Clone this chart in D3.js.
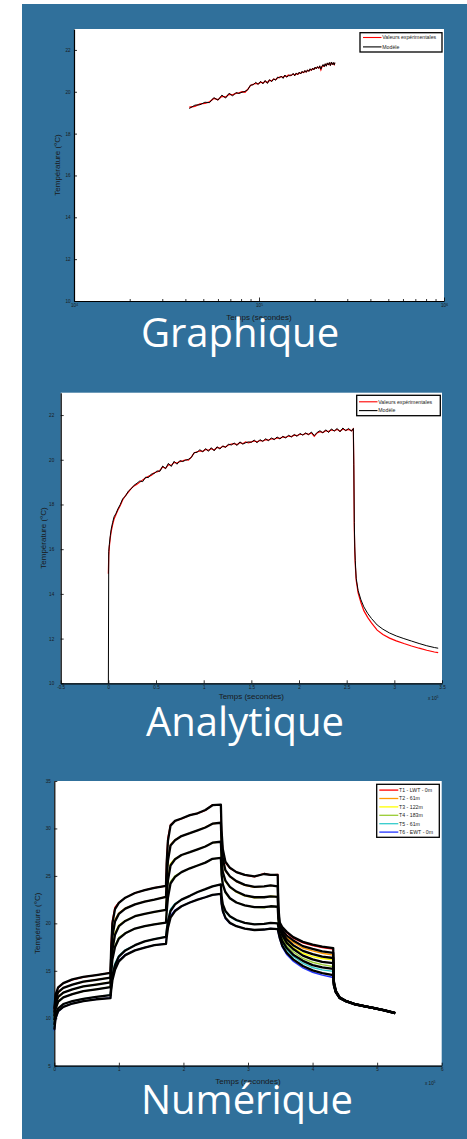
<!DOCTYPE html>
<html>
<head>
<meta charset="utf-8">
<script src="https://cdn.jsdelivr.net/npm/d3@7"></script>
<style>
  html, body { margin: 0; padding: 0; background: #ffffff; }
  svg { display: block; }
</style>
</head>
<body>
<svg id="fig" width="467" height="1139"></svg>
<script>
// ---------- Analytical model: heating test then recovery (time in units of 1e5 s) ----------
const tAna = [0, 0.004, 0.01, 0.02, 0.03, 0.045, 0.06, 0.08, 0.1, 0.125, 0.15, 0.18, 0.21, 0.24, 0.27, 0.3,
  0.33, 0.36, 0.39, 0.42, 0.45, 0.48, 0.51, 0.54, 0.57, 0.6, 0.63, 0.66, 0.69, 0.72, 0.75, 0.78, 0.81, 0.84,
  0.87, 0.9, 0.93, 0.96, 0.99, 1.02, 1.05, 1.08, 1.11, 1.14, 1.17, 1.2, 1.23, 1.26, 1.29, 1.32, 1.35, 1.38,
  1.41, 1.44, 1.47, 1.5, 1.53, 1.56, 1.59, 1.62, 1.65, 1.68, 1.71, 1.74, 1.77, 1.8, 1.83, 1.86, 1.89, 1.92,
  1.95, 1.98, 2.01, 2.04, 2.07, 2.1, 2.13, 2.16, 2.19, 2.22, 2.25, 2.28, 2.31, 2.34, 2.37, 2.4, 2.43, 2.46,
  2.49, 2.52, 2.55, 2.57,
  2.575, 2.58, 2.585, 2.59, 2.6, 2.62, 2.65, 2.68, 2.72, 2.76, 2.82, 2.88, 2.95, 3.02, 3.1, 3.18, 3.26,
  3.34, 3.42, 3.46];
const expAna = [14.9, 15.7, 16.1, 16.5, 16.8, 17.1, 17.35, 17.55, 17.75, 17.95, 18.2, 18.4, 18.55, 18.72, 18.83, 18.9,
  19.0, 19.1, 19.18, 19.26, 19.3, 19.42, 19.45, 19.52, 19.68, 19.62, 19.78, 19.75, 19.88, 19.85, 19.92, 19.95, 20.0, 19.98,
  20.12, 20.3, 20.36, 20.4, 20.38, 20.46, 20.42, 20.5, 20.44, 20.55, 20.52, 20.6, 20.58, 20.66, 20.7, 20.72, 20.68, 20.76,
  20.72, 20.8, 20.76, 20.8, 20.84, 20.8, 20.86, 20.84, 20.9, 20.88, 20.94, 20.92, 20.98, 20.96, 21.02, 21.0, 21.06, 21.04,
  21.1, 21.08, 21.14, 21.12, 21.18, 21.14, 21.2, 21.05, 21.2, 21.26, 21.22, 21.3, 21.26, 21.34, 21.3, 21.36, 21.28, 21.38,
  21.32, 21.36, 21.3, 21.38,
  19.5, 16.9, 15.9, 15.3, 14.6, 14.05, 13.6, 13.25, 12.95, 12.7, 12.38, 12.18, 12.02, 11.9, 11.78, 11.67, 11.57,
  11.48, 11.4, 11.37];
const modAna = [10.0, 15.9, 16.2, 16.6, 16.9, 17.2, 17.45, 17.6, 17.8, 18.0, 18.25, 18.38, 18.6, 18.7, 18.86, 18.95,
  19.05, 19.02, 19.22, 19.2, 19.36, 19.38, 19.5, 19.48, 19.72, 19.6, 19.84, 19.7, 19.93, 19.8, 19.96, 19.92, 19.98, 20.02,
  20.1, 20.32, 20.33, 20.45, 20.35, 20.5, 20.38, 20.54, 20.4, 20.58, 20.48, 20.62, 20.55, 20.7, 20.66, 20.75, 20.64, 20.8,
  20.7, 20.76, 20.8, 20.78, 20.88, 20.76, 20.9, 20.82, 20.94, 20.85, 20.98, 20.9, 21.02, 20.93, 21.05, 20.97, 21.1, 21.02,
  21.13, 21.05, 21.18, 21.1, 21.2, 21.12, 21.24, 21.08, 21.22, 21.3, 21.2, 21.34, 21.22, 21.38, 21.28, 21.4, 21.25, 21.42,
  21.3, 21.4, 21.28, 21.4,
  19.8, 17.2, 16.1, 15.5, 14.7, 14.15, 13.73, 13.42, 13.13, 12.9, 12.61, 12.42, 12.25, 12.12, 12.0, 11.89, 11.78,
  11.68, 11.6, 11.57];

// Window of the heating test shown against log time (seconds)
const logWindow = [0.41e5, 2.57e5];

// ---------- Numerical model: six sensors over five load steps (time in units of 1e5 s) ----------
const tNum = [0, 0.02, 0.06, 0.14, 0.28, 0.45, 0.65, 0.87,
  0.88, 0.9, 0.94, 1.0, 1.1, 1.25, 1.4, 1.55, 1.73,
  1.74, 1.76, 1.8, 1.87, 1.97, 2.1, 2.22, 2.34, 2.45, 2.58,
  2.59, 2.61, 2.65, 2.72, 2.82, 2.95, 3.1, 3.25, 3.35, 3.46,
  3.47, 3.49, 3.53, 3.6, 3.7, 3.85, 4.0, 4.15, 4.32,
  4.33, 4.36, 4.42, 4.52, 4.65, 4.8, 4.95, 5.1, 5.28];

const sensorNames = ["T1 - LWT - 0m", "T2 - 61m", "T3 - 122m", "T4 - 183m", "T5 - 61m", "T6 - EWT - 0m"];
const sensorColors = ["#ff0000", "#ff9900", "#ffff00", "#99cc33", "#33cccc", "#2233ff"];

const measT1 = [10.8, 12.4, 13.2, 13.7, 14.05, 14.35, 14.55, 14.8,
  17.8, 20.3, 21.7, 22.2, 22.7, 23.2, 23.5, 23.75, 23.95,
  26.8, 29.0, 30.4, 30.8, 31.0, 31.4, 31.6, 31.9, 32.5, 32.5,
  29.5, 27.6, 26.4, 25.8, 25.4, 25.1, 24.9, 25.25, 25.1, 25.15,
  21.5, 19.9, 19.5, 19.0, 18.45, 17.95, 17.65, 17.45, 17.3,
  13.8, 12.85, 12.15, 11.8, 11.5, 11.27, 11.07, 10.85, 10.55];
const measT2 = [10.5, 11.9, 12.7, 13.2, 13.55, 13.85, 14.05, 14.3,
  16.6, 18.9, 20.4, 21.1, 21.6, 22.0, 22.3, 22.5, 22.8,
  24.9, 26.9, 28.3, 28.8, 29.2, 29.5, 29.8, 30.15, 30.5, 30.6,
  28.0, 26.6, 25.5, 24.9, 24.4, 24.0, 23.8, 23.9, 24.0, 23.9,
  21.0, 19.6, 19.1, 18.5, 18.0, 17.4, 17.1, 16.85, 16.65,
  13.7, 12.8, 12.15, 11.8, 11.5, 11.27, 11.07, 10.85, 10.55];
const measT3 = [10.1, 11.4, 12.2, 12.7, 13.05, 13.35, 13.55, 13.8,
  15.6, 17.5, 19.0, 19.8, 20.3, 20.75, 21.0, 21.2, 21.45,
  23.0, 24.8, 26.3, 26.8, 27.2, 27.5, 27.8, 28.1, 28.5, 28.6,
  26.5, 25.3, 24.4, 23.8, 23.3, 22.9, 22.7, 22.75, 22.85, 22.8,
  20.6, 19.4, 18.8, 18.05, 17.45, 16.85, 16.5, 16.3, 16.15,
  13.6, 12.8, 12.15, 11.8, 11.5, 11.27, 11.07, 10.85, 10.55];
const measT4 = [9.7, 10.9, 11.7, 12.2, 12.55, 12.85, 13.05, 13.3,
  14.9, 16.4, 17.7, 18.5, 19.0, 19.45, 19.7, 19.9, 20.1,
  21.4, 22.9, 24.4, 25.0, 25.4, 25.8, 26.1, 26.4, 26.8, 26.9,
  25.0, 24.0, 23.2, 22.6, 22.2, 21.9, 21.7, 21.65, 21.8, 21.75,
  20.2, 19.2, 18.5, 17.65, 17.0, 16.3, 15.9, 15.65, 15.45,
  13.5, 12.75, 12.15, 11.8, 11.5, 11.27, 11.07, 10.85, 10.55];
const measT5 = [9.2, 10.3, 11.0, 11.5, 11.8, 12.05, 12.25, 12.45,
  13.6, 14.7, 15.8, 16.6, 17.2, 17.7, 18.1, 18.35, 18.6,
  19.4, 20.4, 21.5, 22.1, 22.5, 22.9, 23.3, 23.6, 23.9, 24.1,
  22.8, 21.9, 21.2, 20.7, 20.3, 20.05, 19.9, 19.95, 20.05, 20.0,
  19.5, 18.8, 18.0, 17.2, 16.5, 15.8, 15.35, 15.1, 14.95,
  13.45, 12.75, 12.15, 11.8, 11.5, 11.27, 11.07, 10.85, 10.55];
const measT6 = [8.7, 9.9, 10.7, 11.2, 11.55, 11.8, 12.0, 12.15,
  13.1, 14.2, 15.3, 16.1, 16.7, 17.15, 17.45, 17.7, 17.85,
  18.7, 19.7, 20.8, 21.4, 21.8, 22.2, 22.5, 22.75, 23.0, 23.1,
  22.0, 21.2, 20.5, 20.0, 19.7, 19.45, 19.3, 19.35, 19.45, 19.4,
  19.0, 18.4, 17.5, 16.7, 16.0, 15.3, 14.85, 14.55, 14.3,
  13.4, 12.7, 12.1, 11.75, 11.45, 11.25, 11.05, 10.83, 10.52];

const simT1 = [11.0, 12.5, 13.25, 13.7, 14.1, 14.35, 14.55, 14.78,
  17.2, 20.0, 21.5, 22.15, 22.7, 23.2, 23.5, 23.75, 23.95,
  26.3, 28.7, 30.3, 30.8, 31.05, 31.4, 31.6, 31.95, 32.45, 32.5,
  29.8, 27.8, 26.5, 25.85, 25.4, 25.1, 24.95, 25.2, 25.1, 25.1,
  21.8, 20.1, 19.6, 19.1, 18.55, 18.05, 17.75, 17.55, 17.4,
  13.9, 12.9, 12.2, 11.82, 11.52, 11.28, 11.08, 10.86, 10.56];
const simT2 = [10.6, 12.0, 12.75, 13.2, 13.55, 13.85, 14.05, 14.28,
  16.3, 18.6, 20.2, 21.0, 21.55, 22.0, 22.3, 22.5, 22.78,
  24.6, 26.6, 28.2, 28.75, 29.2, 29.5, 29.8, 30.1, 30.5, 30.6,
  28.2, 26.8, 25.6, 24.95, 24.45, 24.05, 23.85, 23.9, 24.0, 23.9,
  21.3, 19.8, 19.3, 18.7, 18.2, 17.6, 17.3, 17.05, 16.9,
  13.8, 12.85, 12.18, 11.8, 11.5, 11.27, 11.07, 10.85, 10.55];
const simT3 = [10.2, 11.5, 12.25, 12.7, 13.05, 13.35, 13.55, 13.78,
  15.4, 17.2, 18.8, 19.7, 20.25, 20.75, 21.0, 21.2, 21.42,
  22.8, 24.5, 26.1, 26.75, 27.2, 27.5, 27.8, 28.1, 28.5, 28.6,
  26.7, 25.4, 24.5, 23.85, 23.35, 22.95, 22.75, 22.75, 22.85, 22.8,
  20.9, 19.6, 19.0, 18.3, 17.7, 17.1, 16.75, 16.5, 16.35,
  13.7, 12.82, 12.16, 11.8, 11.5, 11.27, 11.07, 10.85, 10.55];
const simT4 = [9.8, 11.0, 11.75, 12.2, 12.55, 12.85, 13.05, 13.28,
  14.7, 16.2, 17.5, 18.4, 18.95, 19.45, 19.7, 19.9, 20.08,
  21.2, 22.7, 24.2, 24.9, 25.4, 25.8, 26.1, 26.4, 26.8, 26.9,
  25.2, 24.1, 23.3, 22.65, 22.2, 21.9, 21.7, 21.7, 21.8, 21.75,
  20.5, 19.4, 18.75, 17.95, 17.3, 16.6, 16.2, 15.95, 15.8,
  13.6, 12.8, 12.15, 11.8, 11.5, 11.27, 11.07, 10.85, 10.55];
const simT5 = [9.3, 10.4, 11.05, 11.5, 11.8, 12.05, 12.25, 12.43,
  13.4, 14.5, 15.6, 16.5, 17.15, 17.7, 18.1, 18.35, 18.58,
  19.2, 20.2, 21.3, 22.0, 22.5, 22.9, 23.3, 23.6, 23.9, 24.1,
  22.9, 22.0, 21.3, 20.75, 20.35, 20.05, 19.9, 19.95, 20.05, 20.0,
  19.6, 18.9, 18.15, 17.4, 16.7, 16.05, 15.6, 15.35, 15.2,
  13.5, 12.75, 12.15, 11.8, 11.5, 11.27, 11.07, 10.85, 10.55];
const simT6 = [8.8, 10.0, 10.75, 11.2, 11.55, 11.8, 12.0, 12.13,
  12.9, 14.0, 15.1, 16.0, 16.65, 17.15, 17.45, 17.7, 17.83,
  18.5, 19.5, 20.6, 21.3, 21.8, 22.2, 22.5, 22.75, 23.0, 23.1,
  22.1, 21.3, 20.6, 20.05, 19.7, 19.45, 19.3, 19.35, 19.45, 19.4,
  19.1, 18.5, 17.65, 16.9, 16.2, 15.5, 15.05, 14.75, 14.55,
  13.45, 12.72, 12.12, 11.77, 11.47, 11.26, 11.06, 10.84, 10.53];

// ---------- Axis ticks and labels ----------
const yTicksTemp = [10, 12, 14, 16, 18, 20, 22];
const xTicksAna = [-0.5, 0, 0.5, 1, 1.5, 2, 2.5, 3, 3.5];
const yTicksNum = [5, 10, 15, 20, 25, 30, 35];
const xTicksNum = [0, 1, 2, 3, 4, 5, 6];
const logDecades = [4, 5, 6];
const legendAna = ["Valeurs expérimentales", "Modèle"];
const legendAnaColors = ["#ff0000", "#000000"];
const xTitle = "Temps (secondes)";
const yTitle = "Température (°C)";
const panelTitles = ["Graphique", "Analytique", "Numérique"];

// ---------- Drawing ----------
const FONT = "'Liberation Sans', Arial, Helvetica, sans-serif";
const svg = d3.select("#fig");
const W = 467, H = 1139;

svg.append("rect").attr("x", 22).attr("y", 4).attr("width", W - 22).attr("height", H - 4).attr("fill", "#30709b");

function plotArea(box) {
  svg.append("rect").attr("x", box.x0).attr("y", box.y0)
    .attr("width", box.x1 - box.x0).attr("height", box.y1 - box.y0).attr("fill", "#ffffff");
}

function styleAxis(a) {
  a.attr("font-family", FONT).attr("font-size", 4.6);
  a.selectAll("text").attr("fill", "#1a1a1a");
  a.select(".domain").attr("stroke", "#000").attr("stroke-width", 1.2);
  a.selectAll(".tick line").attr("stroke", "#000").attr("stroke-width", 0.8);
}

function yAxis(x0, y, ticks, pad) {
  const a = svg.append("g").attr("transform", `translate(${x0},0)`)
    .call(d3.axisLeft(y).tickValues(ticks).tickSizeInner(-3).tickSizeOuter(0).tickPadding(pad).tickFormat(d => String(d)));
  styleAxis(a);
  return a;
}

function xAxis(y0, x, ticks, fmt) {
  const a = svg.append("g").attr("transform", `translate(0,${y0})`)
    .call(d3.axisBottom(x).tickValues(ticks).tickSizeInner(-3).tickSizeOuter(0).tickPadding(2.5).tickFormat(fmt || (d => String(d))));
  styleAxis(a);
  return a;
}

function titles(box, xy, yx) {
  svg.append("text").attr("x", (box.x0 + box.x1) / 2).attr("y", xy)
    .attr("text-anchor", "middle").attr("font-family", FONT).attr("font-size", 8).attr("fill", "#1a1a1a").text(xTitle);
  const cy = (box.y0 + box.y1) / 2;
  svg.append("text").attr("transform", `translate(${yx},${cy}) rotate(-90)`)
    .attr("text-anchor", "middle").attr("font-family", FONT).attr("font-size", 8).attr("fill", "#1a1a1a").text(yTitle);
}

function legend(lb, names, colors, step, lineW) {
  const g = svg.append("g");
  g.append("rect").attr("x", lb.x0).attr("y", lb.y0).attr("width", lb.x1 - lb.x0).attr("height", lb.y1 - lb.y0)
    .attr("fill", "#fff").attr("stroke", "#000").attr("stroke-width", 1.3);
  names.forEach((n, i) => {
    const yy = lb.y0 + lb.first + i * step;
    g.append("line").attr("x1", lb.lx0).attr("x2", lb.lx1).attr("y1", yy).attr("y2", yy)
      .attr("stroke", colors[i]).attr("stroke-width", lineW);
    g.append("text").attr("x", lb.lx1 + 0.8).attr("y", yy).attr("dy", "0.35em")
      .attr("font-family", FONT).attr("font-size", 5.2).attr("fill", "#1a1a1a").text(n);
  });
}

function bigTitle(text, cx, base) {
  svg.append("text").attr("x", cx).attr("y", base).attr("text-anchor", "middle")
    .attr("font-family", "'Open Sans', 'Noto Sans', sans-serif").attr("font-size", 40).attr("fill", "#ffffff").text(text);
}

// ----- Panel 1: heating data on a logarithmic time axis -----
{
  const box = { x0: 74, x1: 444, y0: 29, y1: 301 };
  plotArea(box);
  const x = d3.scaleLog().domain([1e4, 1e6]).range([box.x0, box.x1]);
  const y = d3.scaleLinear().domain([10, 23]).range([box.y1, box.y0]);

  const sel = tAna.map((t, i) => i).filter(i => tAna[i] * 1e5 >= logWindow[0] && tAna[i] * 1e5 <= logWindow[1]);
  const line = d3.line().x(d => x(d[0] * 1e5)).y(d => y(d[1]));
  svg.append("path").datum(sel.map(i => [tAna[i], expAna[i]])).attr("d", line)
    .attr("fill", "none").attr("stroke", "#ff0000").attr("stroke-width", 1.3);
  svg.append("path").datum(sel.map(i => [tAna[i], modAna[i]])).attr("d", line)
    .attr("fill", "none").attr("stroke", "#000").attr("stroke-width", 1);

  const minor = [];
  logDecades.forEach(p => { for (let k = 1; k <= 9; k++) { const v = k * Math.pow(10, p); if (v <= 1e6) minor.push(v); } });
  const ax = xAxis(box.y1, x, minor, () => "");
  ax.selectAll(".tick line").attr("y2", d => (Math.log10(d) % 1 === 0 ? -3.5 : -2));
  ax.selectAll(".tick").filter(d => Math.log10(d) % 1 === 0).each(function (d) {
    const tx = d3.select(this).select("text").text("").attr("dy", "0.71em");
    tx.append("tspan").text("10");
    tx.append("tspan").attr("dy", "-0.35em").attr("font-size", 3.2).text(String(Math.round(Math.log10(d))));
  });
  yAxis(box.x0, y, yTicksTemp, 3.5);
  titles(box, 320, 60);
  legend({ x0: 360, x1: 442, y0: 32.7, y1: 52, first: 4.8, lx0: 363, lx1: 381.5 }, legendAna, legendAnaColors, 9.4, 1.1);
  bigTitle(panelTitles[0], 240, 347);
}

// ----- Panel 2: analytical solution vs. measurements -----
{
  const box = { x0: 60.7, x1: 442, y0: 392.7, y1: 683.3 };
  plotArea(box);
  const x = d3.scaleLinear().domain([-0.5, 3.5]).range([box.x0, box.x1]);
  const y = d3.scaleLinear().domain([10, 23]).range([box.y1, box.y0]);
  const line = d3.line().x(d => x(d[0])).y(d => y(d[1]));
  svg.append("path").datum(tAna.map((t, i) => [t, expAna[i]])).attr("d", line)
    .attr("fill", "none").attr("stroke", "#ff0000").attr("stroke-width", 1.2);
  svg.append("path").datum(tAna.map((t, i) => [t, modAna[i]])).attr("d", line)
    .attr("fill", "none").attr("stroke", "#000").attr("stroke-width", 1);
  xAxis(box.y1, x, xTicksAna);
  yAxis(box.x0, y, yTicksTemp, 6.5);
  titles(box, 699, 46);
  const ex = svg.append("text").attr("x", 428).attr("y", 700).attr("font-family", FONT).attr("font-size", 4.6).attr("fill", "#1a1a1a");
  ex.append("tspan").text("x 10");
  ex.append("tspan").attr("dy", "-2").attr("font-size", 3.2).text("5");
  legend({ x0: 356.7, x1: 440.3, y0: 395.3, y1: 415.7, first: 6.5, lx0: 359, lx1: 377.5 }, legendAna, legendAnaColors, 8.8, 1.1);
  bigTitle(panelTitles[1], 245, 736);
}

// ----- Panel 3: numerical model, six sensors -----
{
  const box = { x0: 54.3, x1: 441.7, y0: 781, y1: 1065.7 };
  plotArea(box);
  const x = d3.scaleLinear().domain([0, 6]).range([box.x0, box.x1]);
  const y = d3.scaleLinear().domain([5, 35]).range([box.y1, box.y0]);
  const line = d3.line().x(d => x(d[0])).y(d => y(d[1]));
  const meas = [measT1, measT2, measT3, measT4, measT5, measT6];
  const sims = [simT1, simT2, simT3, simT4, simT5, simT6];
  meas.forEach((s, k) => {
    svg.append("path").datum(tNum.map((t, i) => [t, s[i]])).attr("d", line)
      .attr("fill", "none").attr("stroke", sensorColors[k]).attr("stroke-width", 1.4);
  });
  sims.forEach(s => {
    svg.append("path").datum(tNum.map((t, i) => [t, s[i]])).attr("d", line)
      .attr("fill", "none").attr("stroke", "#000").attr("stroke-width", 2.3).attr("stroke-linejoin", "round");
  });
  xAxis(box.y1, x, xTicksNum);
  yAxis(box.x0, y, yTicksNum, 3.5);
  titles(box, 1084, 40);
  const ex = svg.append("text").attr("x", 425).attr("y", 1085).attr("font-family", FONT).attr("font-size", 4.6).attr("fill", "#1a1a1a");
  ex.append("tspan").text("x 10");
  ex.append("tspan").attr("dy", "-2").attr("font-size", 3.2).text("5");
  legend({ x0: 376.7, x1: 439.3, y0: 784.3, y1: 837.3, first: 5.8, lx0: 379.3, lx1: 398.3 }, sensorNames, sensorColors, 8.4, 1.3);
  bigTitle(panelTitles[2], 247, 1114);
}
</script>
</body>
</html>
